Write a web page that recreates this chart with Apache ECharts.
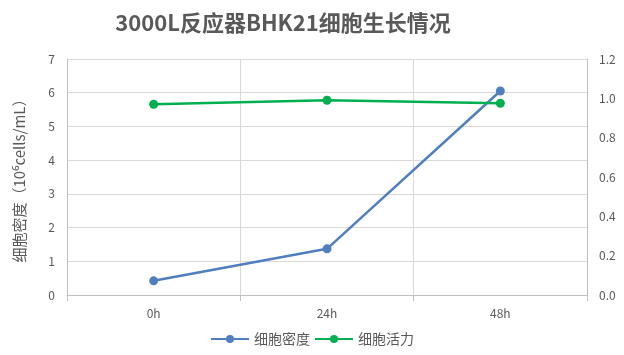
<!DOCTYPE html>
<html><head><meta charset="utf-8">
<script src="https://cdn.jsdelivr.net/npm/echarts@6/dist/echarts.min.js"></script>
<style>html,body{margin:0;padding:0;background:#fff}#c{width:624px;height:355px}</style>
</head><body><div id="c"></div>
<script>
const categories = ['0h', '24h', '48h'];
const density = [0.42, 1.37, 6.05];
const viability = [0.97, 0.99, 0.975];
const leftTicks = [0, 1, 2, 3, 4, 5, 6, 7];
const rightTicks = ['0.0', '0.2', '0.4', '0.6', '0.8', '1.0', '1.2'];

const font = '"Noto Sans CJK SC", "Noto Sans", sans-serif';
const chart = echarts.init(document.getElementById('c'));
chart.setOption({
  animation: false,
  title: {
    text: '3000L反应器BHK21细胞生长情况',
    left: 278, top: 7, textAlign: 'center',
    textStyle: { fontFamily: font, fontSize: 22, fontWeight: 'bold', color: '#595959' }
  },
  legend: {
    bottom: 4, left: 'center', itemWidth: 38, itemHeight: 10, itemGap: 4,
    textStyle: { fontFamily: font, fontSize: 14, color: '#595959' },
    data: ['细胞密度', '细胞活力']
  },
  grid: { left: 67, right: 37, top: 59, bottom: 60 },
  xAxis: {
    type: 'category', data: categories, boundaryGap: true,
    axisLine: { lineStyle: { color: '#bfbfbf' } },
    axisTick: { show: true, length: 6, lineStyle: { color: '#bfbfbf' } },
    axisLabel: { fontFamily: font, fontSize: 12, color: '#595959', margin: 12 },
    splitLine: { show: true, lineStyle: { color: '#d9d9d9' } }
  },
  yAxis: [{
    type: 'value', min: 0, max: 7, interval: 1,
    name: '细胞密度（10⁶cells/mL）', nameLocation: 'middle', nameGap: 40, nameRotate: 90,
    nameTextStyle: { fontFamily: font, fontSize: 15, color: '#595959' },
    axisLine: { show: true, lineStyle: { color: '#bfbfbf' } },
    axisTick: { show: false },
    axisLabel: { fontFamily: font, fontSize: 12, color: '#595959', margin: 12,
      formatter: v => String(leftTicks[Math.round(v)]) },
    splitLine: { show: true, lineStyle: { color: '#d9d9d9' } }
  }, {
    type: 'value', min: 0, max: 1.2, interval: 0.2,
    axisLine: { show: true, lineStyle: { color: '#bfbfbf' } },
    axisTick: { show: false },
    axisLabel: { fontFamily: font, fontSize: 12, color: '#595959', margin: 12,
      formatter: v => rightTicks[Math.round(v / 0.2)] },
    splitLine: { show: false }
  }],
  series: [{
    name: '细胞密度', type: 'line', yAxisIndex: 0, data: density,
    symbol: 'circle', symbolSize: 9,
    lineStyle: { color: '#4f7fbf', width: 2.5 }, itemStyle: { color: '#4f7fbf' }
  }, {
    name: '细胞活力', type: 'line', yAxisIndex: 1, data: viability,
    symbol: 'circle', symbolSize: 9,
    lineStyle: { color: '#00b050', width: 2.5 }, itemStyle: { color: '#00b050' }
  }]
});
</script></body></html>
